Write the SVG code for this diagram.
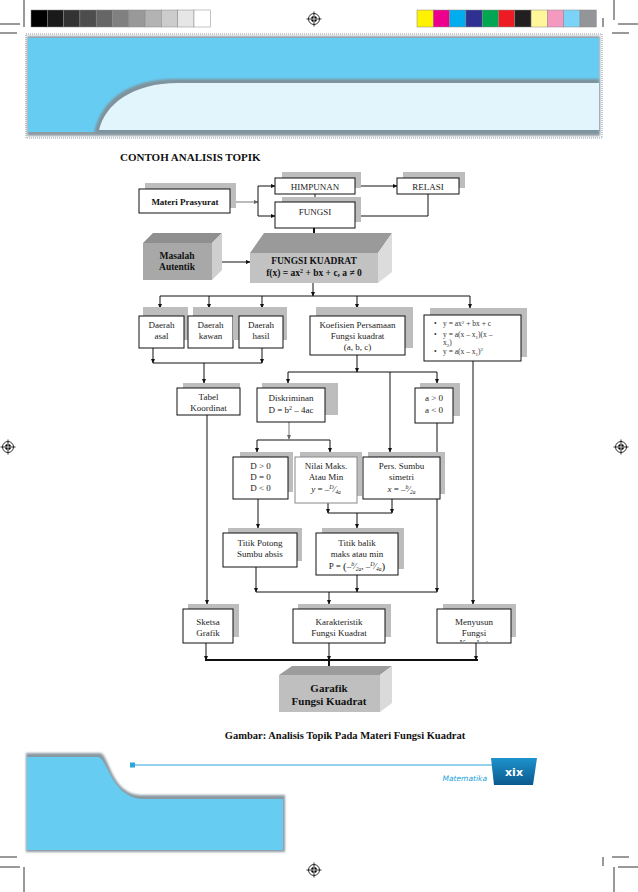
<svg xmlns="http://www.w3.org/2000/svg" width="638" height="892" viewBox="0 0 638 892">
<defs>
<style>
.bx{fill:#fff;stroke:#111;stroke-width:1}
.bxg{fill:#fff;stroke:#888;stroke-width:1}
.sh{fill:#bdbdbd}
.t{font-family:"Liberation Serif","Times New Roman",serif;font-size:9px;fill:#222;text-anchor:middle}
.tl{font-family:"Liberation Serif","Times New Roman",serif;font-size:7.5px;fill:#333}
.b{font-weight:bold;fill:#111}
.c{fill:none;stroke:#111;stroke-width:1}
.cg{fill:none;stroke:#777;stroke-width:1}
.ct{fill:none;stroke:#111;stroke-width:2}
.cm{stroke:#000;stroke-width:0.8;fill:none}
</style>
<marker id="ah" viewBox="0 0 10 10" refX="9" refY="5" markerWidth="5" markerHeight="5" markerUnits="userSpaceOnUse" orient="auto"><path d="M0,0.5L10,5L0,9.5z" fill="#111"/></marker>
<marker id="ahg" viewBox="0 0 10 10" refX="9" refY="5" markerWidth="5" markerHeight="5" markerUnits="userSpaceOnUse" orient="auto"><path d="M0,0.5L10,5L0,9.5z" fill="#666"/></marker>
<marker id="aht" viewBox="0 0 10 10" refX="9" refY="5" markerWidth="7" markerHeight="7" markerUnits="userSpaceOnUse" orient="auto"><path d="M0,0.5L10,5L0,9.5z" fill="#111"/></marker>
<filter id="bl" x="-10%" y="-30%" width="120%" height="160%"><feGaussianBlur stdDeviation="1.3"/></filter>
<linearGradient id="tab" x1="0" y1="0" x2="0" y2="1"><stop offset="0" stop-color="#1d92cc"/><stop offset="1" stop-color="#0b5a8e"/></linearGradient>
<g id="reg"><circle r="5.5" fill="#fff" stroke="#000" stroke-width="0.8"/><circle r="3" fill="#000"/><path d="M-7.5,0H7.5M0,-7.5V7.5" stroke="#000" stroke-width="0.8"/><path d="M-3,0H3M0,-3V3" stroke="#fff" stroke-width="0.8"/></g>
<clipPath id="cpM"><rect x="437" y="609" width="74" height="33"/></clipPath>
</defs>
<rect width="638" height="892" fill="#fff"/>

<!-- print marks -->
<g id="printmarks">
<path class="cm" d="M24,0V27M0,24H20M0,33H17M614,0V20M603,18V27M618,24H638M612,33H629M0,857H17M0,867H20M24,867V892M612,857H629M603,857V866M618,867H638M614,867V892"/>
<g stroke="#888" stroke-width="0.5">
<rect x="31" y="10" width="16.3" height="17" fill="#000"/>
<rect x="47.3" y="10" width="16.3" height="17" fill="#1a1a1a"/>
<rect x="63.6" y="10" width="16.3" height="17" fill="#333"/>
<rect x="79.9" y="10" width="16.3" height="17" fill="#4d4d4d"/>
<rect x="96.2" y="10" width="16.3" height="17" fill="#666"/>
<rect x="112.5" y="10" width="16.3" height="17" fill="#808080"/>
<rect x="128.8" y="10" width="16.3" height="17" fill="#999"/>
<rect x="145.1" y="10" width="16.3" height="17" fill="#b3b3b3"/>
<rect x="161.4" y="10" width="16.3" height="17" fill="#ccc"/>
<rect x="177.7" y="10" width="16.3" height="17" fill="#e6e6e6"/>
<rect x="194" y="10" width="16.3" height="17" fill="#fff"/>
<rect x="417" y="10" width="16.3" height="17" fill="#fff200"/>
<rect x="433.3" y="10" width="16.3" height="17" fill="#ec008c"/>
<rect x="449.6" y="10" width="16.3" height="17" fill="#00aeef"/>
<rect x="465.9" y="10" width="16.3" height="17" fill="#2e3192"/>
<rect x="482.2" y="10" width="16.3" height="17" fill="#00a651"/>
<rect x="498.5" y="10" width="16.3" height="17" fill="#ed1c24"/>
<rect x="514.8" y="10" width="16.3" height="17" fill="#231f20"/>
<rect x="531.1" y="10" width="16.3" height="17" fill="#fff799"/>
<rect x="547.4" y="10" width="16.3" height="17" fill="#f49ac1"/>
<rect x="563.7" y="10" width="16.3" height="17" fill="#7dd3f7"/>
<rect x="580" y="10" width="16.3" height="17" fill="#939598"/>
</g>
<use href="#reg" x="314" y="19"/>
<use href="#reg" x="314" y="870"/>
<use href="#reg" x="8" y="447"/>
<use href="#reg" x="621" y="447"/>
</g>

<!-- header band -->
<g id="header">
<rect x="26" y="34" width="576" height="104" fill="none" stroke="#b4bcc1" stroke-width="1.5" stroke-dasharray="1 1"/>
<rect x="27" y="36" width="573" height="100" fill="#8e9ca4" filter="url(#bl)"/>
<rect x="28" y="38" width="571" height="94" fill="#66ccf2"/>
<path d="M599,79 H176 C128,79 101,100 94,133 H599 Z" fill="#7f939d" filter="url(#bl)"/>
<path d="M599,83 H178 C133,83 105,104 99,130 H599 Z" fill="#e3f5fc"/>
</g>

<text x="120" y="161" class="t b" style="font-size:11px;text-anchor:start">CONTOH ANALISIS TOPIK</text>

<!-- connectors -->
<g id="connectors">
<path class="cg" d="M230,202H258" marker-end="url(#ahg)"/>
<path class="c" d="M258,186V216"/>
<path class="c" d="M258,186H275" marker-end="url(#ah)"/>
<path class="c" d="M258,216H275" marker-end="url(#ah)"/>
<path class="c" d="M355,186H397" marker-end="url(#ah)"/>
<path class="c" d="M315,194V202" marker-end="url(#ah)"/>
<path class="c" d="M428,194V216H355" marker-end="url(#ah)"/>
<path class="ct" d="M314,228V242" marker-end="url(#aht)"/>
<path class="c" d="M212,262H250" marker-end="url(#ah)"/>
<path class="c" d="M313,283V296" marker-end="url(#ah)"/>
<path class="c" d="M160,296H470"/>
<path class="c" d="M160,296V308" marker-end="url(#ah)"/>
<path class="c" d="M209,296V308" marker-end="url(#ah)"/>
<path class="c" d="M262,296V308" marker-end="url(#ah)"/>
<path class="c" d="M357,296V308" marker-end="url(#ah)"/>
<path class="c" d="M470,296V308" marker-end="url(#ah)"/>
<path class="c" d="M233,330H239" marker-end="url(#ah)"/>
<path class="c" d="M153,348V363" marker-end="url(#ah)"/>
<path class="c" d="M262,348V363" marker-end="url(#ah)"/>
<path class="c" d="M153,363H262"/>
<path class="c" d="M204,363V383" marker-end="url(#ah)"/>
<path class="c" d="M357,355V372" marker-end="url(#ah)"/>
<path class="c" d="M288,372H437"/>
<path class="c" d="M288,372V383" marker-end="url(#ah)"/>
<path class="c" d="M437,372V383" marker-end="url(#ah)"/>
<path class="c" d="M390,372V452" marker-end="url(#ah)"/>
<path class="cg" d="M289,422V439" marker-end="url(#ahg)"/>
<path class="c" d="M257,440H330"/>
<path class="c" d="M257,440V452" marker-end="url(#ah)"/>
<path class="c" d="M330,440V452" marker-end="url(#ah)"/>
<path class="c" d="M328,503V513" marker-end="url(#ah)"/>
<path class="c" d="M392,499V513" marker-end="url(#ah)"/>
<path class="c" d="M328,513H392"/>
<path class="c" d="M357,513V528" marker-end="url(#ah)"/>
<path class="c" d="M258,499V528" marker-end="url(#ah)"/>
<path class="c" d="M256,567V592" marker-end="url(#ah)"/>
<path class="c" d="M357,575V592" marker-end="url(#ah)"/>
<path class="c" d="M437,423V592" marker-end="url(#ah)"/>
<path class="c" d="M256,592H437"/>
<path class="c" d="M329,592V604" marker-end="url(#ah)"/>
<path class="c" d="M207,415V604" marker-end="url(#ah)"/>
<path class="c" d="M473,361V604" marker-end="url(#ah)"/>
<path class="c" d="M206,643V660" marker-end="url(#ah)"/>
<path class="c" d="M329,643V660" marker-end="url(#ah)"/>
<path class="c" d="M476,643V660" marker-end="url(#ah)"/>
<path class="ct" d="M205,660H478"/>
<path class="ct" d="M329,660V675" marker-end="url(#aht)"/>
</g>

<!-- nodes -->
<g id="materi"><rect class="sh" x="145" y="183" width="91" height="25"/><rect class="bx" x="139" y="189" width="91" height="24"/><text class="t b" x="185" y="205">Materi Prasyurat</text></g>
<g id="himpunan"><rect class="sh" x="282" y="172" width="79" height="16"/><rect class="bx" x="275" y="178" width="80" height="16"/><text class="t" x="315" y="189.5">HIMPUNAN</text></g>
<g id="relasi"><rect class="sh" x="403" y="172" width="62" height="16"/><rect class="bx" x="397" y="178" width="62" height="16"/><text class="t" x="428" y="189.5">RELASI</text></g>
<g id="fungsi"><rect class="sh" x="282" y="197" width="79" height="25"/><rect class="bx" x="275" y="202" width="80" height="26"/><text class="t" x="315" y="215">FUNGSI</text></g>

<g id="masalah">
<polygon points="143,243 153,233 222,233 212,243" fill="#8f8f8f"/>
<rect x="143" y="243" width="69" height="37" fill="#a8a8a8"/>
<polygon points="212,243 222,233 222,270 212,280" fill="#cfcfcf"/>
<text class="t b" style="font-size:9.5px" x="177" y="259">Masalah</text>
<text class="t b" style="font-size:9.5px" x="177" y="270">Autentik</text>
</g>
<g id="fungsikuadrat">
<polygon points="250,253 264,233 392,233 378,253" fill="#9a9a9a"/>
<rect x="250" y="253" width="128" height="30" fill="#c2c2c2"/>
<polygon points="378,253 392,233 392,272 378,283" fill="#dcdcdc"/>
<text class="t b" style="font-size:9.5px" x="314" y="264">FUNGSI KUADRAT</text>
<text class="t b" style="font-size:9.5px" x="314" y="276">f(x) = ax<tspan font-size="6" dy="-3.5">2</tspan><tspan dy="3.5"> + bx + c, a ≠ 0</tspan></text>
</g>

<g id="daerahasal"><rect class="sh" x="143" y="307" width="45" height="33"/><rect class="bx" x="139" y="316" width="45" height="32"/><text class="t" x="161.5" y="328">Daerah</text><text class="t" x="161.5" y="339">asal</text></g>
<g id="daerahkawan"><rect class="sh" x="193" y="307" width="45" height="33"/><rect class="bx" x="188" y="316" width="45" height="32"/><text class="t" x="210.5" y="328">Daerah</text><text class="t" x="210.5" y="339">kawan</text></g>
<g id="daerahhasil"><rect class="sh" x="233" y="307" width="54" height="33"/><rect class="bx" x="239" y="316" width="44" height="32"/><text class="t" x="261" y="328">Daerah</text><text class="t" x="261" y="339">hasil</text></g>
<g id="koefisien"><rect class="sh" x="316" y="307" width="97" height="41"/><rect class="bx" x="310" y="316" width="95" height="39"/><text class="t" x="357.5" y="328">Koefisien Persamaan</text><text class="t" x="357.5" y="339">Fungsi kuadrat</text><text class="t" x="357.5" y="350">(a, b, c)</text></g>
<g id="bentuk"><rect class="sh" x="430" y="308" width="97" height="49"/><rect class="bx" x="424" y="315" width="97" height="46"/>
<text class="tl" x="434" y="326">•</text><text class="tl" x="443" y="326">y = ax<tspan font-size="5" dy="-2.5">2</tspan><tspan dy="2.5"> + bx + c</tspan></text>
<text class="tl" x="434" y="337">•</text><text class="tl" x="443" y="337">y = a(x – x<tspan font-size="5" dy="1.5">1</tspan><tspan dy="-1.5">)(x –</tspan></text>
<text class="tl" x="443" y="345">x<tspan font-size="5" dy="1.5">2</tspan><tspan dy="-1.5">)</tspan></text>
<text class="tl" x="434" y="354">•</text><text class="tl" x="443" y="354">y = a(x – x<tspan font-size="5" dy="1.5">1</tspan><tspan dy="-1.5">)</tspan><tspan font-size="5" dy="-3">2</tspan></text>
</g>

<g id="tabel"><rect class="sh" x="183" y="383" width="57" height="27"/><rect class="bx" x="177" y="388" width="63" height="27"/><text class="t" x="208.5" y="400">Tabel</text><text class="t" x="208.5" y="411">Koordinat</text></g>
<g id="diskriminan"><rect class="sh" x="262" y="383" width="76" height="32"/><rect class="bx" x="257" y="388" width="68" height="34"/><text class="t" x="291" y="401">Diskriminan</text><text class="t" x="291" y="413">D = b<tspan font-size="6" dy="-3">2</tspan><tspan dy="3"> – 4ac</tspan></text></g>
<g id="nilaia"><rect class="sh" x="420" y="383" width="40" height="33"/><rect class="bx" x="415" y="388" width="38" height="35"/><text class="t" x="434" y="401">a &gt; 0</text><text class="t" x="434" y="413">a &lt; 0</text></g>

<g id="nilaid"><rect class="sh" x="240" y="452" width="53" height="40"/><rect class="bx" x="233" y="457" width="55" height="42"/><text class="t" x="260.5" y="469">D &gt; 0</text><text class="t" x="260.5" y="480">D = 0</text><text class="t" x="260.5" y="491">D &lt; 0</text></g>
<g id="nilaimaks"><rect class="sh" x="300" y="452" width="62" height="44"/><rect class="bxg" x="295" y="457" width="62" height="46"/><text class="t" x="326" y="469">Nilai Maks.</text><text class="t" x="326" y="480">Atau Min</text><text class="t" x="326" y="492"><tspan font-style="italic">y</tspan> = –<tspan font-size="6" dy="-3" font-style="italic">D</tspan><tspan dy="3">⁄</tspan><tspan font-size="5.5" dy="1.5" font-style="italic">4a</tspan></text></g>
<g id="sumbu"><rect class="sh" x="368" y="452" width="77" height="42"/><rect class="bx" x="363" y="457" width="77" height="42"/><text class="t" x="401.5" y="469">Pers. Sumbu</text><text class="t" x="401.5" y="480">simetri</text><text class="t" x="401.5" y="492"><tspan font-style="italic">x</tspan> = –<tspan font-size="6" dy="-3" font-style="italic">b</tspan><tspan dy="3">⁄</tspan><tspan font-size="5.5" dy="1.5" font-style="italic">2a</tspan></text></g>

<g id="titikpotong"><rect class="sh" x="228" y="528" width="74" height="33"/><rect class="bx" x="223" y="533" width="74" height="34"/><text class="t" x="260" y="546">Titik Potong</text><text class="t" x="260" y="557">Sumbu absis</text></g>
<g id="titikbalik"><rect class="sh" x="322" y="528" width="82" height="41"/><rect class="bx" x="316" y="533" width="82" height="42"/><text class="t" x="357" y="546">Titik balik</text><text class="t" x="357" y="557">maks atau min</text><text class="t" x="357" y="569">P = <tspan font-size="11" dy="0.5">(</tspan><tspan dy="-0.5">–</tspan><tspan font-size="6" dy="-3" font-style="italic">b</tspan><tspan dy="3">⁄</tspan><tspan font-size="5.5" dy="1.5" font-style="italic">2a</tspan><tspan dy="-1.5">, –</tspan><tspan font-size="6" dy="-3" font-style="italic">D</tspan><tspan dy="3">⁄</tspan><tspan font-size="5.5" dy="1.5" font-style="italic">4a</tspan><tspan font-size="11" dy="-1">)</tspan></text></g>

<g id="sketsa"><rect class="sh" x="188" y="604" width="51" height="33"/><rect class="bx" x="183" y="609" width="50" height="34"/><text class="t" x="208" y="625">Sketsa</text><text class="t" x="208" y="636">Grafik</text></g>
<g id="karakteristik"><rect class="sh" x="298" y="604" width="93" height="33"/><rect class="bx" x="293" y="609" width="92" height="34"/><text class="t" x="339" y="625">Karakteristik</text><text class="t" x="339" y="636">Fungsi Kuadrat</text></g>
<g id="menyusun"><rect class="sh" x="443" y="604" width="73" height="33"/><rect class="bx" x="437" y="609" width="74" height="34"/><text class="t" x="474" y="625">Menyusun</text><text class="t" x="474" y="636">Fungsi</text><text class="t" x="474" y="646" clip-path="url(#cpM)">Kuadrat</text></g>

<g id="garafik">
<polygon points="279,675 292,666 392,666 380,675" fill="#9c9c9c"/>
<rect x="279" y="675" width="101" height="37" fill="#bfbfbf"/>
<polygon points="380,675 392,666 392,703 380,712" fill="#dadada"/>
<text class="t b" style="font-size:11px" x="329" y="692">Garafik</text>
<text class="t b" style="font-size:11px" x="329" y="705">Fungsi Kuadrat</text>
</g>

<text x="345" y="739" class="t b" style="font-size:10.5px">Gambar: Analisis Topik Pada Materi Fungsi Kuadrat</text>

<!-- footer -->
<g id="footer">
<path d="M26,753 H100 C109,753 110,793 140,795 H285 V852 H26 Z" fill="#8a99a1" filter="url(#bl)"/>
<path d="M27,757 H98 C107,757 111,797 142,799 H283 V850 H27 Z" fill="#66ccf2"/>
<line x1="132" y1="765" x2="492" y2="765" stroke="#2aa6da" stroke-width="1"/>
<rect x="130" y="762.5" width="5" height="5" fill="#2aa6da"/>
<polygon points="491,758 537,758 533,785 494,785" fill="url(#tab)"/>
<text x="514" y="776" style="font-family:'DejaVu Sans',sans-serif;font-size:11px;font-weight:bold;fill:#fff;text-anchor:middle">xix</text>
<text x="487" y="781" style="font-family:'DejaVu Sans',sans-serif;font-size:7.5px;font-style:italic;fill:#1ba3dc;text-anchor:end">Matematika</text>
</g>
</svg>
